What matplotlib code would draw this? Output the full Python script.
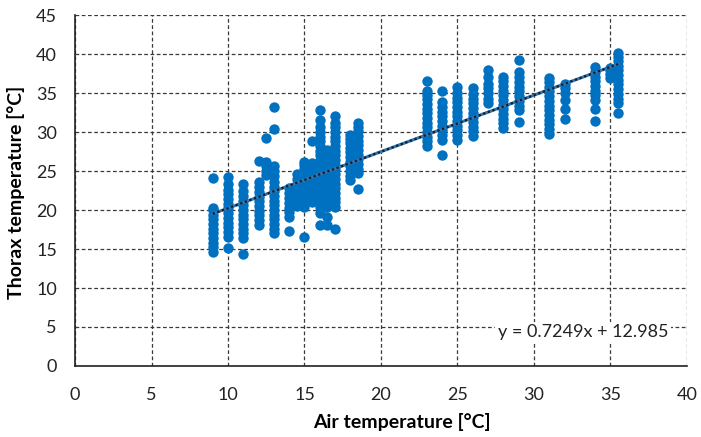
import numpy as np
import matplotlib.pyplot as plt

plt.rcParams['font.family'] = ['Lato', 'DejaVu Sans']

# air temperature levels and thorax temperatures
air_levels = [9, 10, 11, 12, 12.5, 13, 14, 14.5, 15, 15.5, 16, 16.5, 17, 18, 18.5,
              23, 24, 25, 26, 27, 28, 29, 31, 32, 34, 35, 35.5]

thorax = [
    [14.6, 15.2, 15.8, 16.4, 17.0, 17.6, 18.2, 18.8, 19.4, 20.0, 20.3, 24.1],
    [15.1, 16.6, 17.2, 17.8, 18.4, 19.0, 19.6, 20.2, 20.8, 21.4, 22.0, 22.6, 23.4, 24.2],
    [14.4, 16.4, 17.0, 17.6, 18.2, 18.8, 19.4, 20.0, 20.6, 21.2, 21.8, 22.4, 23.4],
    [18.1, 18.7, 19.3, 19.9, 20.5, 21.1, 21.7, 22.3, 22.9, 23.6, 26.3],
    [24.5, 25.0, 25.6, 26.2, 29.2],
    [17.0, 17.6, 18.2, 18.8, 19.4, 20.0, 20.6, 21.2, 21.8, 22.4, 23.0, 23.6, 24.4, 25.0, 25.6, 30.4, 33.2],
    [17.3, 19.1, 19.7, 20.3, 20.9, 21.5, 22.2, 22.8],
    [20.5, 21.2, 21.9, 22.6, 23.3, 24.0, 24.6],
    [16.6, 20.4, 21.0, 21.6, 22.2, 22.8, 23.4, 24.0, 24.6, 25.2, 25.8, 26.2],
    [21.0, 21.6, 22.2, 22.8, 23.4, 24.0, 24.6, 25.2, 26.0, 28.8],
    [18.1, 19.6, 20.4, 21.0, 21.6, 22.2, 22.8, 23.4, 24.0, 24.6, 25.2, 25.8, 26.4, 27.0,
     27.6, 28.2, 28.8, 29.4, 30.0, 30.6, 31.5, 32.8],
    [18.1, 19.1, 20.4, 21.0, 21.6, 22.2, 22.8, 23.4, 24.0, 24.6, 25.2, 25.8, 26.4, 27.0, 27.7],
    [17.6, 20.4, 21.0, 21.6, 22.2, 22.8, 23.4, 24.0, 24.6, 25.2, 25.8, 26.4, 27.0, 27.6,
     28.2, 28.8, 29.4, 30.0, 30.6, 31.1, 32.0],
    [23.8, 24.4, 25.0, 25.6, 26.2, 26.8, 27.4, 28.0, 28.6, 29.1, 29.6],
    [22.7, 24.7, 25.3, 25.9, 26.5, 27.1, 27.7, 28.3, 28.9, 29.5, 30.1, 30.7, 31.2],
    [28.2, 28.8, 29.4, 30.0, 30.6, 31.2, 31.8, 32.4, 33.0, 33.6, 34.2, 34.7, 35.2, 36.6],
    [27.0, 29.0, 29.6, 30.2, 30.8, 31.4, 32.0, 32.6, 33.2, 33.9, 35.2],
    [29.0, 29.6, 30.2, 30.8, 31.4, 32.0, 32.6, 33.2, 33.8, 34.4, 35.0, 35.8],
    [29.5, 30.1, 30.7, 31.3, 31.9, 32.5, 33.1, 33.7, 34.3, 34.9, 35.6],
    [33.7, 34.3, 35.0, 35.6, 36.2, 37.1, 37.9],
    [30.5, 31.1, 31.7, 32.3, 32.9, 33.5, 34.1, 34.7, 35.3, 35.9, 36.5, 37.1],
    [31.3, 32.8, 33.4, 34.0, 34.6, 35.2, 35.8, 36.4, 37.0, 37.7, 39.2],
    [29.8, 30.4, 31.0, 31.6, 32.2, 32.8, 33.4, 34.0, 34.6, 35.2, 35.8, 36.4, 36.9],
    [31.7, 32.9, 34.1, 35.0, 35.6, 36.2],
    [31.4, 33.0, 34.1, 34.7, 35.3, 35.9, 36.5, 37.1, 37.7, 38.4],
    [36.9, 37.4, 37.9, 38.2],
    [32.5, 33.7, 34.3, 34.9, 35.5, 36.1, 36.7, 37.3, 37.9, 38.5, 39.1, 39.6, 40.1],
]

slope = 0.7249
intercept = 12.985

x = np.concatenate([[a] * len(t) for a, t in zip(air_levels, thorax)])
y = np.concatenate(thorax)

fig = plt.figure(figsize=(7.01, 4.37), dpi=100)
ax = fig.add_axes([0.107, 0.1625, 0.873, 0.803])

ax.scatter(x, y, s=56, color='#0070C0', zorder=3, linewidths=0)

xl = np.array([min(air_levels), max(air_levels)])
ax.plot(xl, slope * xl + intercept, color='#2E75B6', lw=2.2, zorder=4)
ax.plot(xl, slope * xl + intercept, color='#1a1a1a', lw=1.6,
        linestyle=(0, (1, 1.2)), zorder=5)

ax.set_xlim(0, 40)
ax.set_ylim(0, 45)
ax.set_xticks(range(0, 41, 5))
ax.set_yticks(range(0, 46, 5))
ax.tick_params(length=0, labelsize=13, colors='#222222')
ax.tick_params(axis='x', pad=15)
ax.tick_params(axis='y', pad=13)

ax.grid(True, color='#3a3a3a', lw=0.9, linestyle=(0, (3, 2)))
ax.set_axisbelow(True)
for s in ['top', 'right']:
    ax.spines[s].set_visible(False)
for s in ['left', 'bottom']:
    ax.spines[s].set_color('#222222')
    ax.spines[s].set_linewidth(1.2)

ax.set_xlabel('Air temperature [°C]', fontsize=14, fontweight='bold')
ax.set_ylabel('Thorax temperature [°C]', fontsize=14, fontweight='bold')
ax.xaxis.set_label_coords(0.535, -0.135)
ax.yaxis.set_label_coords(-0.082, 0.495)

ax.text(33.2, 4.3, 'y = 0.7249x + 12.985', fontsize=13, ha='center', va='center',
        color='#222222', zorder=6,
        bbox=dict(facecolor='white', edgecolor='none', pad=2))

fig.savefig('out.png', dpi=100)
